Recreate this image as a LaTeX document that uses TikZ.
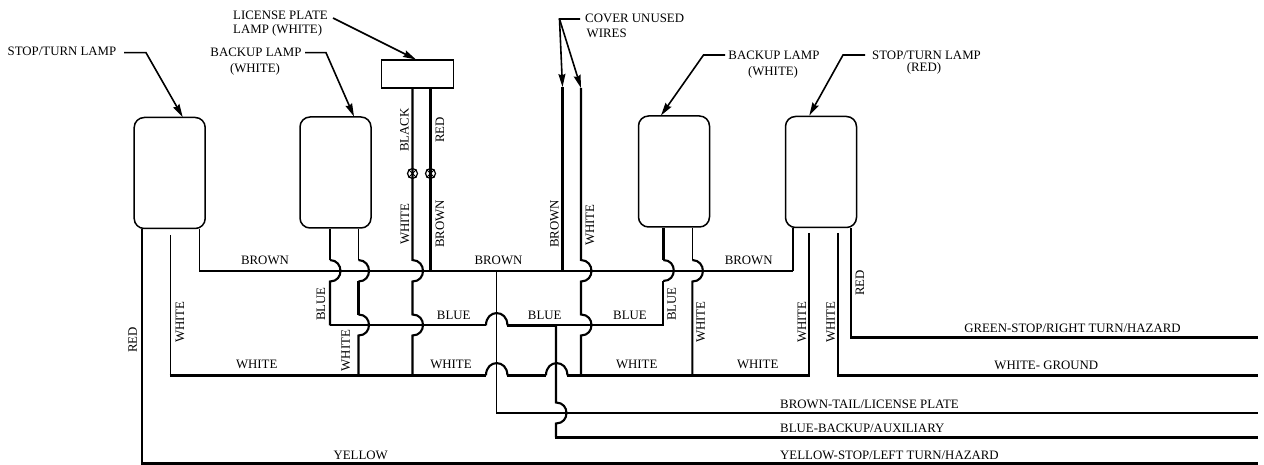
\documentclass[tikz,border=0pt]{standalone}
\usepackage{fontspec}
\setmainfont{Liberation Serif}
\usetikzlibrary{arrows.meta}
\newcommand\hopR[2]{.. controls (#1+14,#2-10.5) and (#1+14,#2+10.5) .. (#1,#2+10.5)}
\tikzset{
  lamp/.style={draw,line width=1.5pt,rounded corners=10pt,inner sep=0pt,minimum width=71pt,minimum height=111pt},
  wirea/.style={line width=1.6pt},
  wireb/.style={line width=2.1pt},
  wirec/.style={line width=2.8pt},
  leader/.style={line width=1.6pt,-{Stealth[length=13pt,width=7pt,inset=1.5pt]}},
  txt/.style={font=\fontsize{12.85pt}{14pt}\selectfont,inner sep=0pt},
  vtxt/.style={txt,rotate=90},
  term/.style={draw,circle,line width=1.2pt,inner sep=0pt,minimum size=10pt}
}
\begin{document}
\begin{tikzpicture}[x=1pt,y=-1pt,line join=miter]
\useasboundingbox (0,0) rectangle (1264,465);
% lamps
\node[lamp] (L1) at (169.7,173) {};
\node[lamp] (L2) at (335.5,172.5) {};
\node[lamp] (L3) at (674,171.5) {};
\node[lamp] (L4) at (821,172) {};
\node[draw,line width=1.5pt,inner sep=0pt,minimum width=72pt,minimum height=28pt] (P) at (417.7,74) {};
% free ends on the right
\coordinate (endG) at (1258,337.3);
\coordinate (endW) at (1258,375.4);
\coordinate (endBr) at (1258,413.2);
\coordinate (endBl) at (1258,437.3);
\coordinate (endY) at (1258,463.4);
% free ends
\coordinate (wA) at (170.5,235);
\coordinate (wB) at (809,233);
\coordinate (wC) at (837.7,233);
\coordinate (cvA) at (562.5,87);
\coordinate (cvB) at (581,88);
% lamp 1
\draw[wirec] (142,0 |- L1.south) -- (142,263);
\draw[wireb] (142,263) -- (142,463.4) -- (endY);
\draw[wirec] (141,463.4) -- (endY);
\draw[wirea] (199.4,0 |- L1.south) -- (199.4,271.2) -- (793,271.2);
\draw[wireb] (793,271.2) -- (793,0 |- L4.south);
\draw[wirea] (wA) -- (170.5,375.4);
% lamp 2
\draw[wirec] (330,0 |- L2.south) -- (330,260);
\draw[wireb] (330,260) \hopR{330}{271} -- (330,325.3);
\draw[wireb] (330,325.3) -- (485.7,325.3);
\draw[wirea] (358.5,0 |- L2.south) -- (358.5,260);
\draw[wireb] (358.5,260) \hopR{358.5}{271};
\draw[wirec] (358.5,281) -- (358.5,314.5);
\draw[wireb] (358.5,314.5) \hopR{358.5}{325} -- (358.5,375.4);
% plate wires
\draw[wireb] (412.5,0 |- P.south) -- (412.5,260) \hopR{412.5}{271} -- (412.5,314.5) \hopR{412.5}{325} -- (412.5,375.4);
\draw[wirec] (430.5,0 |- P.south) -- (430.5,271.2);
\node[term] (T1) at (412.5,173.5) {};
\node[term] (T2) at (430.5,173.5) {};
\draw[line width=.9pt] (T1.45) -- (T1.225) (T1.135) -- (T1.315);
\draw[line width=.9pt] (T2.45) -- (T2.225) (T2.135) -- (T2.315);
% white main
\draw[wirec] (169.5,375.4) -- (486,375.4);
\draw[wireb] (486,375.4) .. controls (486,359) and (507.4,359) .. (507.4,375.4);
\draw[wirec] (507.4,375.4) -- (546,375.4);
\draw[wireb] (546,375.4) .. controls (546,359) and (567.4,359) .. (567.4,375.4);
\draw[wirec] (567.4,375.4) -- (810,375.4);
\draw[wirec] (836.7,375.4) -- (endW);
% blue hop
\draw[wireb] (486,325.3) .. controls (486,309) and (507.4,309) .. (507.4,325.3);
\draw[wirec] (507.4,325.3) -- (556,325.3);
\draw[wireb] (556,325.3) -- (663.3,325.3) -- (663.3,281);
\draw[wireb] (663.3,281) .. controls (677.3,281) and (677.3,260) .. (663.3,260);
\draw[wirec] (663.3,260) -- (663.3,0 |- L3.south);
% brown down
\draw[wirea] (496.5,271.2) -- (496.5,413.2) -- (endBr);
% blue down
\draw[wireb] (556,325.3) -- (556,402.5) \hopR{556}{413} -- (556,437.3);
\draw[wirec] (555,437.3) -- (endBl);
% cover wires
\draw[wirec] (cvA) -- (562.5,271.2);
\draw[wireb] (cvB) -- (581,260) \hopR{581}{271} -- (581,314.5) \hopR{581}{325} -- (581,375.4);
% lamp 3 right
\draw[wirea] (692.4,0 |- L3.south) -- (692.4,260);
\draw[wireb] (692.4,260) \hopR{692.4}{271} -- (692.4,375.4);
% lamp 4
\draw[wireb] (wB) -- (809,375.4);
\draw[wireb] (wC) -- (837.7,375.4);
\draw[wirec] (851,0 |- L4.south) |- (endG);
% leaders
\coordinate (a1) at (124,52.7);
\coordinate (a2) at (305,52.7);
\coordinate (a3) at (333,18);
\coordinate (a4) at (580,19);
\coordinate (a4k) at (559.5,19);
\coordinate (a5) at (725,55);
\coordinate (a6) at (865,55);
\draw[leader] (a1) -- (146,52.7) -- (182.7,117);
\draw[leader] (a2) -- (326,52.7) -- (354,116.5);
\draw[leader] (a3) -- (416,59.5);
\draw[leader] (a4) -- (a4k) -- (cvA);
\draw[leader] (a4k) -- (cvB);
\draw[leader] (a5) -- (703.5,55) -- (661,115.5);
\draw[leader] (a6) -- (843,55) -- (809.3,115.5);
% labels
\node[txt] (t1) at (62,51) {STOP/TURN LAMP};
\node[txt,anchor=west] (t2) at (233,15) {LICENSE PLATE};
\node[txt,anchor=west] (t3) at (233,30) {LAMP (WHITE)};
\node[txt] (t4) at (256,52.5) {BACKUP LAMP};
\node[txt] (t5) at (255,69) {(WHITE)};
\node[txt,anchor=west] (t6) at (585,18.5) {COVER UNUSED};
\node[txt,anchor=west] (t7) at (586.5,33) {WIRES};
\node[txt] (t8) at (774,55.5) {BACKUP LAMP};
\node[txt] (t9) at (773,72) {(WHITE)};
\node[txt,anchor=west] (t10) at (872,55.5) {STOP/TURN LAMP};
\node[txt] (t11) at (924,68.5) {(RED)};
\node[vtxt] (v1) at (404.5,130) {BLACK};
\node[vtxt] (v2) at (440,130) {RED};
\node[vtxt] (v3) at (405,224) {WHITE};
\node[vtxt] (v4) at (440,224) {BROWN};
\node[vtxt] (v5) at (554.5,224) {BROWN};
\node[vtxt] (v6) at (590,225) {WHITE};
\node[txt] (h1) at (265,260.7) {BROWN};
\node[txt] (h2) at (498.5,260.7) {BROWN};
\node[txt] (h3) at (748.7,260.7) {BROWN};
\node[vtxt] (v7) at (321,304) {BLUE};
\node[vtxt] (v8) at (671.7,304) {BLUE};
\node[txt] (h4) at (453.7,315.7) {BLUE};
\node[txt] (h5) at (544.7,315.7) {BLUE};
\node[txt] (h6) at (630,315.7) {BLUE};
\node[vtxt] (v9) at (180,322) {WHITE};
\node[vtxt] (v10) at (132.7,340) {RED};
\node[txt] (h7) at (256.7,364.7) {WHITE};
\node[vtxt] (v11) at (345.7,350.7) {WHITE};
\node[txt] (h8) at (451,364.7) {WHITE};
\node[txt] (h9) at (636.7,364.7) {WHITE};
\node[vtxt] (v12) at (700.7,322) {WHITE};
\node[txt] (h10) at (757.7,364.7) {WHITE};
\node[vtxt] (v13) at (802,322) {WHITE};
\node[vtxt] (v14) at (830.7,322) {WHITE};
\node[vtxt] (v15) at (860,283) {RED};
\node[txt] (h11) at (360.7,455.7) {YELLOW};
\node[txt] (r1) at (1072.5,328.7) {GREEN-STOP/RIGHT TURN/HAZARD};
\node[txt] (r2) at (1046.3,365) {WHITE- GROUND};
\node[txt,anchor=west] (r3) at (780,404) {BROWN-TAIL/LICENSE PLATE};
\node[txt,anchor=west] (r4) at (780,428.7) {BLUE-BACKUP/AUXILIARY};
\node[txt,anchor=west] (r5) at (780,455.7) {YELLOW-STOP/LEFT TURN/HAZARD};
\end{tikzpicture}
\end{document}
